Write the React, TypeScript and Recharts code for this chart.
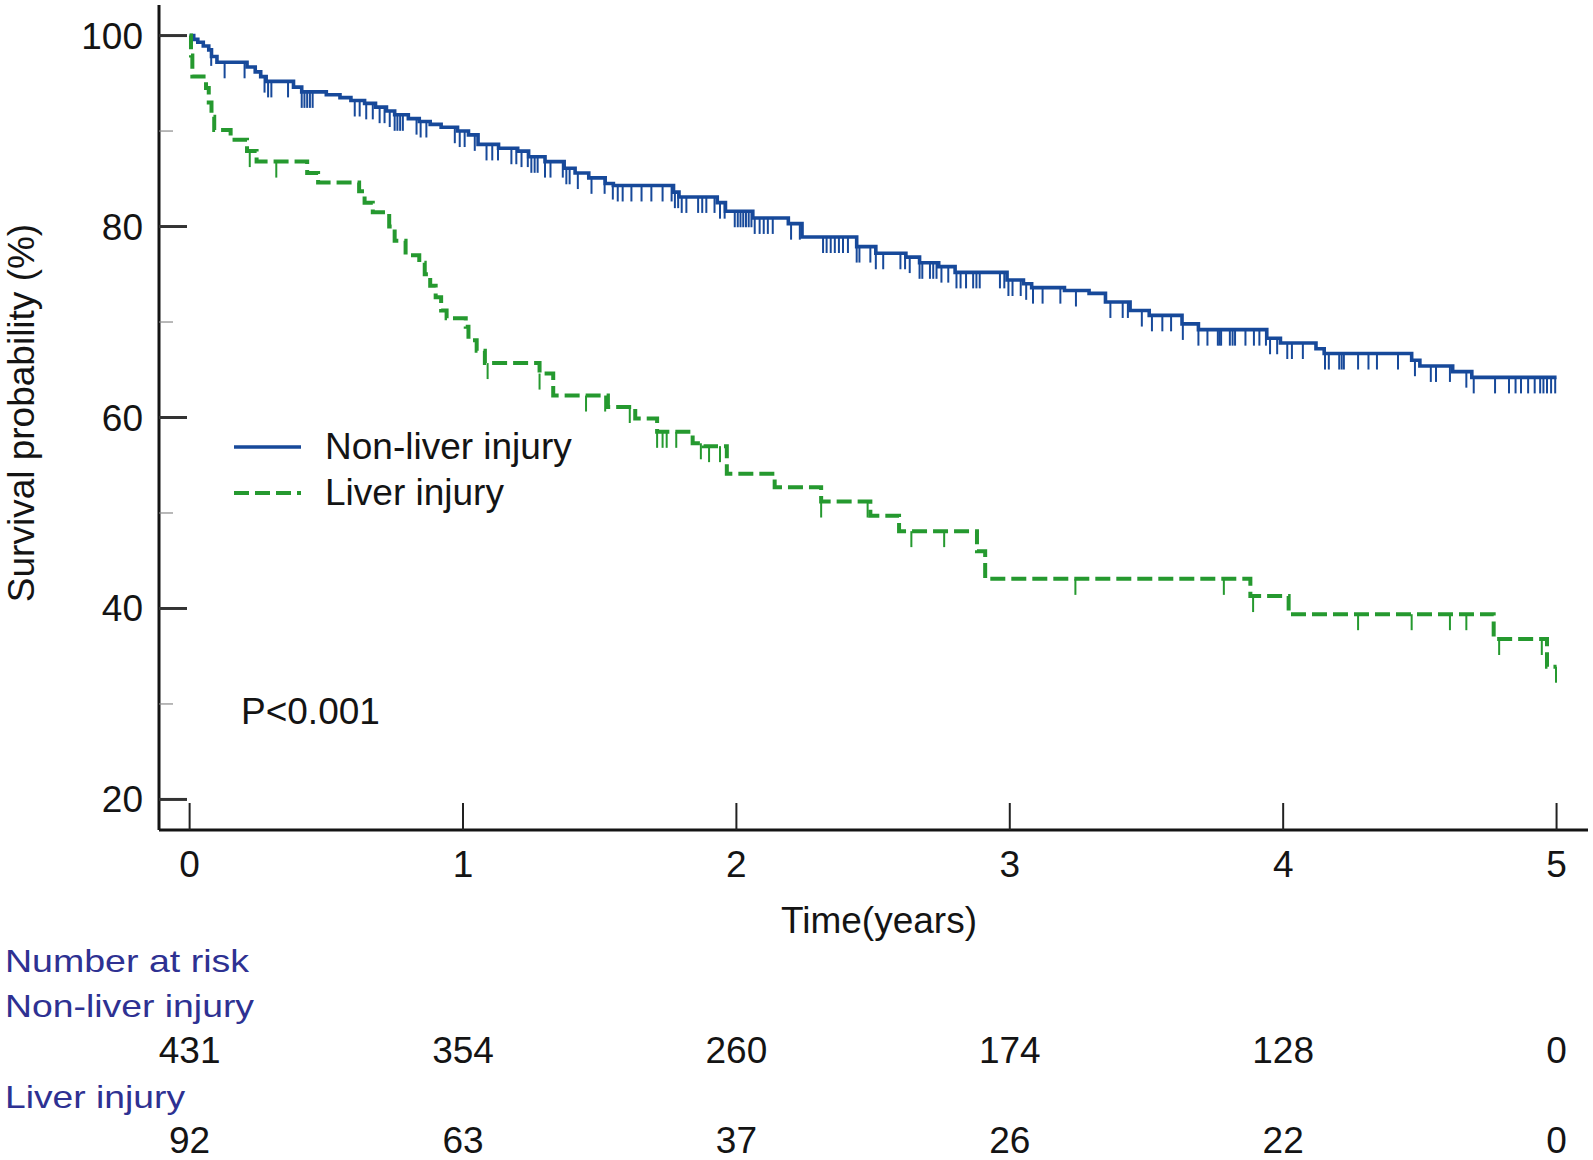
import React from 'react';
import { ComposedChart, Line, XAxis, YAxis } from 'recharts';

// ---------- data ----------
const timeTicks = [0, 1, 2, 3, 4, 5];
const survivalTicks = [20, 30, 40, 50, 60, 70, 80, 90, 100];
const majorSurvivalTicks = [20, 40, 60, 80, 100];
const nonLiverAtRisk = [431, 354, 260, 174, 128, 0];
const liverAtRisk = [92, 63, 37, 26, 22, 0];

// Kaplan-Meier steps: [time (years), survival (%)]
const nonLiverSteps: [number, number][] = [
  [0, 100], [0.015, 99.6], [0.03, 99.3], [0.05, 98.9], [0.07, 98.5], [0.08, 97.8], [0.1, 97.2],
  [0.21, 96.7], [0.24, 96.2], [0.26, 95.7], [0.28, 95.2], [0.38, 94.6], [0.41, 94.1], [0.5, 93.8],
  [0.55, 93.5], [0.59, 93.2], [0.64, 92.9], [0.68, 92.5], [0.72, 92.1], [0.75, 91.7], [0.8, 91.3],
  [0.84, 91.0], [0.88, 90.7], [0.92, 90.4], [0.98, 90.0], [1.02, 89.6], [1.055, 88.6], [1.13, 88.2],
  [1.2, 87.9], [1.24, 87.3], [1.3, 86.8], [1.37, 86.1], [1.41, 85.6], [1.46, 85.1], [1.52, 84.5],
  [1.55, 84.3], [1.77, 83.6], [1.79, 83.1], [1.93, 82.5], [1.96, 81.6], [2.06, 80.9], [2.19, 80.3],
  [2.24, 78.9], [2.44, 77.9], [2.51, 77.2], [2.62, 76.8], [2.67, 76.2], [2.74, 75.8], [2.8, 75.2],
  [2.99, 74.4], [3.05, 74.0], [3.08, 73.6], [3.2, 73.3], [3.29, 73.0], [3.35, 72.1], [3.44, 71.2],
  [3.51, 70.7], [3.63, 69.8], [3.69, 69.2], [3.94, 68.3], [3.99, 67.8], [4.12, 67.2], [4.15, 66.7],
  [4.47, 66.0], [4.5, 65.4], [4.62, 64.8], [4.69, 64.2], [5.0, 64.2],
];

const liverSteps: [number, number][] = [
  [0, 100], [0.005, 97.9], [0.01, 95.7], [0.06, 94.5], [0.07, 93.0], [0.08, 91.5], [0.09, 90.1],
  [0.15, 89.1], [0.21, 87.9], [0.245, 86.8], [0.43, 85.6], [0.47, 84.6], [0.62, 83.7], [0.64, 82.5],
  [0.67, 81.5], [0.73, 80.0], [0.75, 78.5], [0.79, 77.0], [0.84, 76.2], [0.86, 75.0], [0.88, 73.8],
  [0.9, 72.6], [0.92, 71.2], [0.94, 70.4], [1.01, 69.5], [1.02, 68.1], [1.05, 67.0], [1.08, 65.7],
  [1.28, 64.6], [1.33, 62.3], [1.53, 61.1], [1.63, 59.9], [1.71, 58.5], [1.84, 57.3], [1.88, 57.0],
  [1.965, 54.1], [2.14, 52.7], [2.31, 51.2], [2.49, 49.7], [2.595, 48.1], [2.88, 46.0], [2.91, 43.1],
  [3.88, 41.3], [4.02, 39.4], [4.77, 36.8], [4.965, 33.9], [5.0, 33.9],
];

// censoring times (years)
const nonLiverCensored = [
  0.079, 0.128, 0.201, 0.274, 0.287, 0.299, 0.36, 0.41, 0.42, 0.43, 0.44, 0.45, 0.604, 0.622, 0.646,
  0.67, 0.695, 0.713, 0.732, 0.75, 0.76, 0.77, 0.78, 0.83, 0.845, 0.866, 0.97, 0.988, 1.006, 1.043,
  1.086, 1.107, 1.128, 1.177, 1.195, 1.214, 1.237, 1.25, 1.262, 1.273, 1.3, 1.32, 1.365, 1.378, 1.39,
  1.42, 1.47, 1.518, 1.548, 1.566, 1.584, 1.616, 1.653, 1.689, 1.73, 1.763, 1.775, 1.787, 1.8, 1.817,
  1.86, 1.875, 1.89, 1.92, 1.94, 1.957, 1.994, 2.005, 2.015, 2.025, 2.035, 2.045, 2.055, 2.067, 2.085,
  2.1, 2.115, 2.133, 2.2, 2.232, 2.317, 2.33, 2.345, 2.36, 2.375, 2.39, 2.408, 2.44, 2.45, 2.49, 2.51,
  2.537, 2.6, 2.617, 2.634, 2.67, 2.68, 2.708, 2.72, 2.732, 2.75, 2.775, 2.805, 2.82, 2.84, 2.866,
  2.878, 2.89, 2.964, 2.98, 2.995, 3.01, 3.04, 3.06, 3.085, 3.12, 3.185, 3.242, 3.368, 3.413, 3.432,
  3.483, 3.52, 3.558, 3.59, 3.633, 3.69, 3.723, 3.761, 3.767, 3.773, 3.805, 3.815, 3.824, 3.862, 3.893,
  3.913, 3.937, 3.952, 3.978, 4.015, 4.032, 4.072, 4.153, 4.167, 4.205, 4.214, 4.222, 4.274, 4.312,
  4.343, 4.42, 4.482, 4.54, 4.559, 4.61, 4.67, 4.697, 4.775, 4.826, 4.85, 4.87, 4.896, 4.92, 4.94,
  4.952, 4.965, 4.98, 4.995,
];

const liverCensored = [
  0.22, 0.317, 1.09, 1.28, 1.45, 1.52, 1.61, 1.71, 1.73, 1.745, 1.78, 1.87, 1.9, 1.94, 2.31, 2.48,
  2.64, 2.76, 3.24, 3.783, 3.89, 4.274, 4.47, 4.61, 4.67, 4.79, 4.946, 4.998,
];

// ---------- layout / style ----------
const W = 1593;
const H = 1160;
const PLOT_LEFT = 159;
const PLOT_TOP = 5;
const PLOT_RIGHT = 1588;
const PLOT_BOTTOM = 830;
const Y_AXIS_W = 60;
const X_AXIS_H = 60;
const BLUE = '#17499a';
const GREEN = '#25992f';
const NAVY = '#2e3192';
const INK = '#141414';
const FONT = '"Liberation Sans", Arial, Helvetica, sans-serif';
const DASH = '15 6';

function survivalAt(steps: [number, number][], t: number): number {
  let s = steps[0][1];
  for (const [st, sv] of steps) {
    if (st <= t + 1e-9) s = sv;
    else break;
  }
  return s;
}

const nonLiverData = nonLiverSteps.map(([t, s]) => ({ t, s }));
const liverData = liverSteps.map(([t, s]) => ({ t, s }));
const nonLiverCensorData = nonLiverCensored.map((t) => ({ t, s: survivalAt(nonLiverSteps, t) }));
const liverCensorData = liverCensored.map((t) => ({ t, s: survivalAt(liverSteps, t) }));

const XTick = (props: any) => {
  const { x, payload } = props;
  const idx = timeTicks.indexOf(payload.value);
  return (
    <g>
      <line x1={x} x2={x} y1={PLOT_BOTTOM - 27} y2={PLOT_BOTTOM} stroke="#222" strokeWidth={2} />
      <text x={x} y={877} textAnchor="middle" fontSize={37} fontFamily={FONT} fill={INK}>
        {payload.value}
      </text>
      <text x={x} y={1063} textAnchor="middle" fontSize={37} fontFamily={FONT} fill={INK}>
        {nonLiverAtRisk[idx]}
      </text>
      <text x={x} y={1153} textAnchor="middle" fontSize={37} fontFamily={FONT} fill={INK}>
        {liverAtRisk[idx]}
      </text>
    </g>
  );
};

const YTick = (props: any) => {
  const { y, payload } = props;
  const major = majorSurvivalTicks.includes(payload.value);
  if (!major) {
    return (
      <g>
        <line x1={PLOT_LEFT} x2={PLOT_LEFT + 14} y1={y} y2={y} stroke="#8a8a8a" strokeWidth={1.2} />
      </g>
    );
  }
  return (
    <g>
      <line x1={PLOT_LEFT} x2={PLOT_LEFT + 28} y1={y} y2={y} stroke="#333" strokeWidth={3} />
      <text x={143} y={y + 13} textAnchor="end" fontSize={37} fontFamily={FONT} fill={INK}>
        {payload.value}
      </text>
    </g>
  );
};

const CensorMark = (props: any) => {
  const { cx, cy, color } = props;
  if (cx == null || cy == null) return <g />;
  return <line x1={cx} x2={cx} y1={cy} y2={cy + 16} stroke={color} strokeWidth={2} />;
};

export default function App() {
  return (
    <div style={{ position: 'absolute', left: 0, top: 0, width: W, height: H, background: '#fff' }}>
      <ComposedChart
        width={W}
        height={H}
        margin={{
          top: PLOT_TOP,
          right: W - PLOT_RIGHT,
          left: PLOT_LEFT - Y_AXIS_W,
          bottom: H - PLOT_BOTTOM - X_AXIS_H,
        }}
      >
        <XAxis
          dataKey="t"
          type="number"
          domain={[-0.112, 5.115]}
          ticks={timeTicks}
          interval={0}
          allowDataOverflow
          height={X_AXIS_H}
          tickLine={false}
          axisLine={{ stroke: INK, strokeWidth: 3 }}
          tick={<XTick />}
        />
        <YAxis
          dataKey="s"
          type="number"
          domain={[16.8, 103.2]}
          ticks={survivalTicks}
          interval={0}
          allowDataOverflow
          width={Y_AXIS_W}
          tickLine={false}
          axisLine={{ stroke: INK, strokeWidth: 3 }}
          tick={<YTick />}
        />
        <Line
          data={nonLiverData}
          dataKey="s"
          type="stepAfter"
          stroke={BLUE}
          strokeWidth={3.6}
          dot={false}
          activeDot={false}
          isAnimationActive={false}
        />
        <Line
          data={liverData}
          dataKey="s"
          type="stepAfter"
          stroke={GREEN}
          strokeWidth={4}
          strokeDasharray={DASH}
          dot={false}
          activeDot={false}
          isAnimationActive={false}
        />
        <Line
          data={nonLiverCensorData}
          dataKey="s"
          stroke="none"
          strokeWidth={0}
          dot={<CensorMark color={BLUE} />}
          activeDot={false}
          isAnimationActive={false}
        />
        <Line
          data={liverCensorData}
          dataKey="s"
          stroke="none"
          strokeWidth={0}
          dot={<CensorMark color={GREEN} />}
          activeDot={false}
          isAnimationActive={false}
        />
      </ComposedChart>
      <svg
        width={W}
        height={H}
        style={{ position: 'absolute', left: 0, top: 0, pointerEvents: 'none' }}
        fontFamily={FONT}
      >
        <text transform="translate(34,413) rotate(-90)" textAnchor="middle" fontSize={37} fill={INK}>
          Survival probability (%)
        </text>
        <text x={879} y={933} textAnchor="middle" fontSize={37} fill={INK}>
          Time(years)
        </text>
        <line x1={234} x2={301} y1={447} y2={447} stroke={BLUE} strokeWidth={3.6} />
        <text x={325} y={459} fontSize={37} fill={INK}>Non-liver injury</text>
        <line x1={234} x2={301} y1={493} y2={493} stroke={GREEN} strokeWidth={4} strokeDasharray={DASH} />
        <text x={325} y={505} fontSize={37} fill={INK}>Liver injury</text>
        <text x={241} y={724} fontSize={37} fill={INK}>P&lt;0.001</text>
        <text x={5} y={972} fontSize={32} fill={NAVY} textLength={244} lengthAdjust="spacingAndGlyphs">
          Number at risk
        </text>
        <text x={5} y={1017} fontSize={32} fill={NAVY} textLength={249} lengthAdjust="spacingAndGlyphs">
          Non-liver injury
        </text>
        <text x={5} y={1108} fontSize={32} fill={NAVY} textLength={180} lengthAdjust="spacingAndGlyphs">
          Liver injury
        </text>
      </svg>
    </div>
  );
}
